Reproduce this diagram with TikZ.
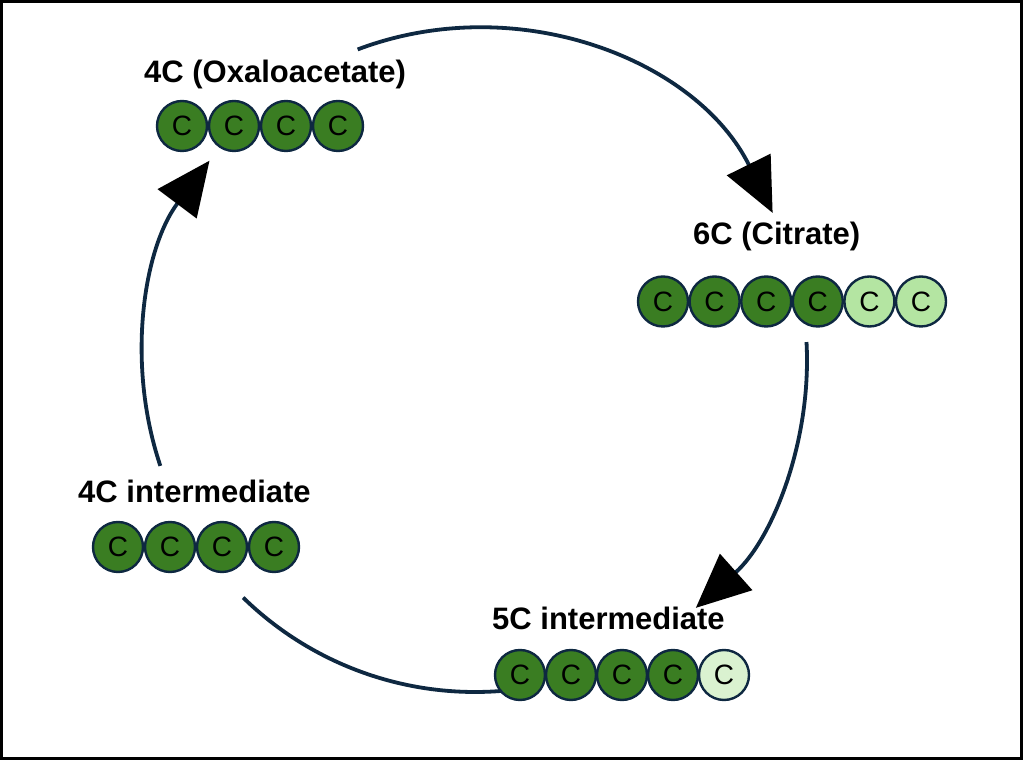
\documentclass[tikz,border=0pt]{standalone}
\usepackage{fontspec}
\setmainfont{Liberation Sans}
\usetikzlibrary{arrows.meta}
\definecolor{dkgreen}{HTML}{3A7D22}
\definecolor{ltgreen}{HTML}{B4E5A2}
\definecolor{pale}{HTML}{DAF2D0}
\definecolor{navy}{HTML}{0E2841}
\tikzset{
  carbon/.style={circle, draw=navy, line width=2.4pt, minimum size=50pt, inner sep=0pt,
    font=\fontsize{28}{28}\selectfont, text=black},
  dk/.style={carbon, fill=dkgreen},
  lt/.style={carbon, fill=ltgreen},
  pl/.style={carbon, fill=pale},
  lab/.style={anchor=base west, inner sep=0pt, font=\bfseries\fontsize{31}{31}\selectfont},
  cyc/.style={draw=navy, line width=3.8pt},
  tip/.style={-{Triangle[length=54pt,width=48pt,color=black]}},
}
\begin{document}
\begin{tikzpicture}[x=1pt,y=1pt]
\useasboundingbox (0,0) rectangle (1023,760);
\fill[white] (0,0) rectangle (1023,760);
\draw[line width=3pt] (1.5,1.5) rectangle (1021.5,758.5);
\coordinate (ctr) at (475,400);
% cycle arcs
\draw[cyc,tip] ([shift={(110.7:332pt)}]ctr) coordinate (a1) arc[start angle=110.7, end angle=26.3, radius=332pt];
\draw[cyc,tip] ([shift={(3.1:332pt)}]ctr) coordinate (a2) arc[start angle=3.1, end angle=-48.3, radius=332pt];
\draw[cyc] ([shift={(225.7:332pt)}]ctr) coordinate (a3) arc[start angle=225.7, end angle=275, radius=332pt];
\draw[cyc,tip] ([shift={(198.6:332pt)}]ctr) coordinate (a4) arc[start angle=198.6, end angle=143.1, radius=332pt];
% 4C (Oxaloacetate)
\node[lab] (lo) at (144,677) {4C (Oxaloacetate)};
\foreach \i in {0,1,2,3} \node[dk] (o\i) at ({182+52*\i},634) {C};
% 6C (Citrate)
\node[lab] (lc) at (693,515) {6C (Citrate)};
\foreach \i in {0,1,2,3} \node[dk] (c\i) at ({663+51.6*\i},458.5) {C};
\foreach \i in {4,5} \node[lt] (c\i) at ({663+51.6*\i},458.5) {C};
% 5C intermediate
\node[lab] (lf) at (492,130) {5C intermediate};
\foreach \i in {0,1,2,3} \node[dk] (f\i) at ({520+51*\i},85) {C};
\node[pl] (f4) at ({520+51*4},85) {C};
% 4C intermediate
\node[lab] (li) at (78,257) {4C intermediate};
\foreach \i in {0,1,2,3} \node[dk] (i\i) at ({118+52*\i},213) {C};
\end{tikzpicture}
\end{document}
